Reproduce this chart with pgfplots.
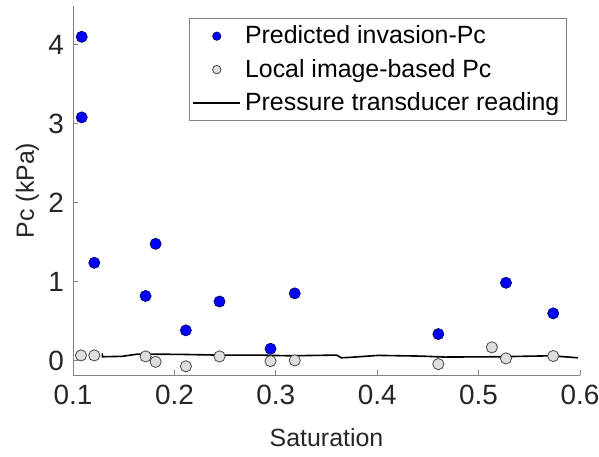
\documentclass[border=0pt]{standalone}
\usepackage{fontspec}
\setmainfont{Liberation Sans}
\usepackage{pgfplots}
\pgfplotsset{compat=1.18}
\definecolor{axgray}{RGB}{130,130,130}
\definecolor{txtgray}{RGB}{38,38,38}
\definecolor{ptgray}{RGB}{222,222,222}
\definecolor{ptedge}{RGB}{70,70,70}
\pgfplotsset{
  marklegend/.style={legend image code/.code={\draw[mark repeat=2,mark phase=2,##1,mark size=2.1bp]
    plot coordinates {(0bp,0bp) (11.75bp,0bp) (23.5bp,0bp)};}},
  linelegend/.style={legend image code/.code={\draw[##1] (0bp,0bp) -- (23.5bp,0bp);}},
}

\begin{document}
\begin{tikzpicture}
\begin{axis}[
  scale only axis,
  width=253.5bp, height=184.5bp,
  xmin=0.1, xmax=0.6, ymin=-0.18, ymax=4.49,
  axis lines*=left,
  axis line style={axgray, line width=0.5bp},
  xtick={0.1,0.2,0.3,0.4,0.5,0.6},
  ytick={0,1,2,3,4},
  xticklabels={0.1,0.2,0.3,0.4,0.5,0.6},
  tick align=inside,
  major tick length=2.5bp,
  tick style={axgray, line width=0.5bp},
  /pgf/number format/assume math mode=true,
  tick label style={font=\fontsize{14}{16}\selectfont, text=txtgray},
  xticklabel style={yshift=-1.5bp},
  yticklabel style={xshift=-1bp},
  label style={font=\fontsize{12.5}{15}\selectfont, text=txtgray},
  xlabel={Saturation},
  ylabel={Pc (kPa)},
  xlabel style={at={(axis description cs:0.5,-0.194)}, anchor=base},
  ylabel style={at={(axis description cs:-0.077,0.5)}, anchor=base},
  legend style={at={(0.974,0.967)}, anchor=north east, draw=axgray,
    line width=0.5bp, font=\fontsize{12.5}{15}\selectfont,
    inner sep=1.5bp, row sep=2.2bp, legend cell align=left},
  clip=false,
]
\addplot[only marks, mark=*, mark size=2.8bp,
  mark options={fill=blue, draw=black!70!blue, line width=0.3bp}, marklegend]
  coordinates {
  (0.1086,4.10) (0.1086,3.08) (0.121,1.24) (0.1716,0.82)
  (0.1815,1.48) (0.2113,0.385) (0.2445,0.75) (0.2948,0.152)
  (0.3187,0.853) (0.4603,0.338) (0.527,0.987) (0.5736,0.60)
  };
\addlegendentry{Predicted invasion-Pc}
\addplot[only marks, mark=*, mark size=2.8bp,
  mark options={fill=ptgray, draw=ptedge, line width=0.4bp}, marklegend]
  coordinates {
  (0.1079,0.068) (0.121,0.068) (0.1716,0.055) (0.1815,-0.013)
  (0.2113,-0.07) (0.2445,0.055) (0.2948,-0.004) (0.3187,0.005)
  (0.4603,-0.042) (0.5131,0.17) (0.527,0.03) (0.5736,0.06)
  };
\addlegendentry{Local image-based Pc}
\addplot[black, line width=0.8bp, no marks, linelegend]
  coordinates {
  (0.1289,0.094) (0.1289,0.051) (0.1483,0.056) (0.1643,0.085)
  (0.2054,0.081) (0.2429,0.072) (0.2842,0.072) (0.3138,0.063)
  (0.3598,0.072) (0.3647,0.038) (0.3729,0.043) (0.4008,0.068)
  (0.4436,0.059) (0.4665,0.047) (0.519,0.051) (0.5716,0.063)
  (0.5978,0.038)
  };
\addlegendentry{Pressure transducer reading}
\coordinate (ll) at (rel axis cs:0,0);
\coordinate (ur) at (rel axis cs:1,1);
\end{axis}
\pgfresetboundingbox
\path[use as bounding box] ([shift={(-36.5bp,-41bp)}]ll) rectangle ([shift={(9.5bp,3bp)}]ur);
\end{tikzpicture}
\end{document}
